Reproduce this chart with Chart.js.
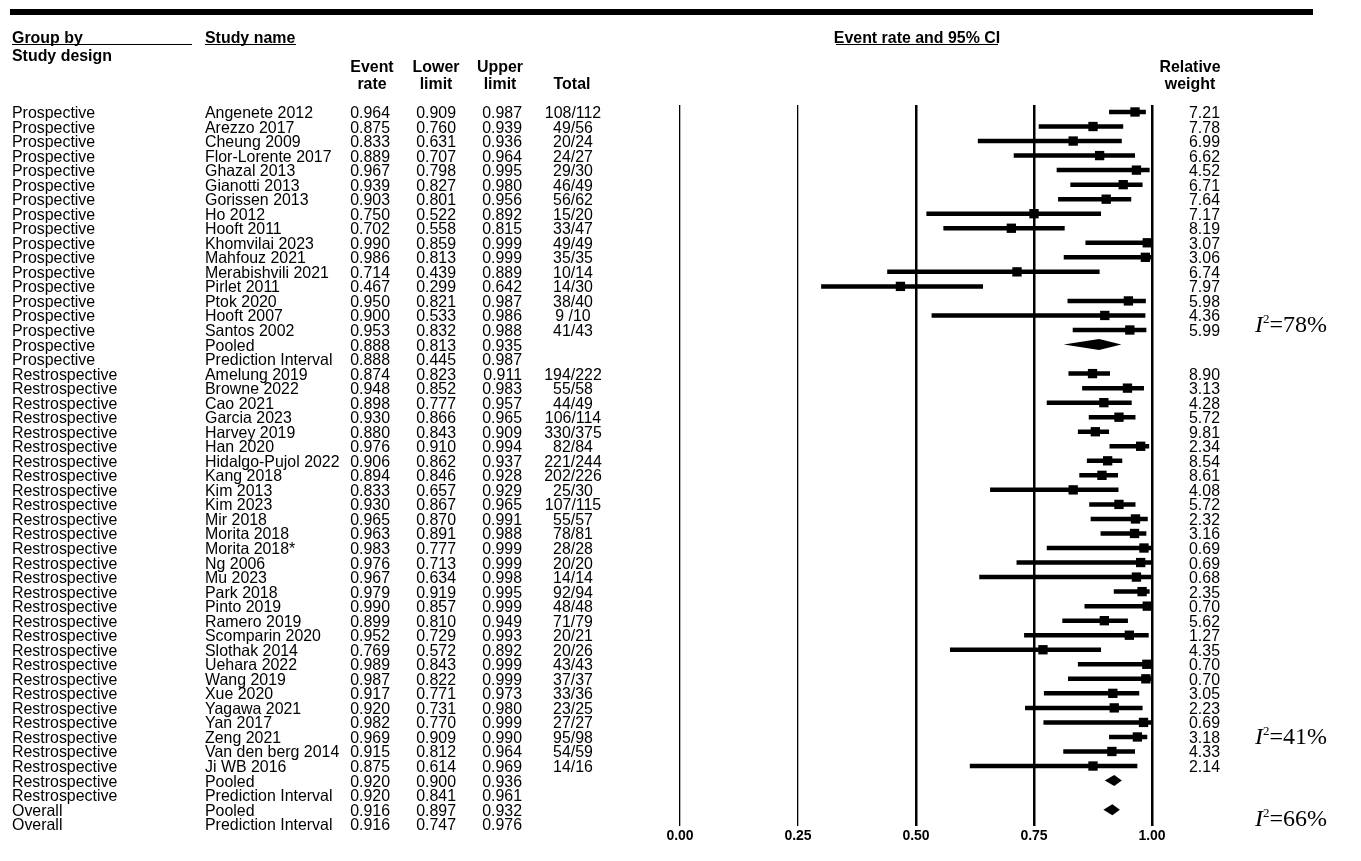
<!DOCTYPE html>
<html><head><meta charset="utf-8">
<script src="https://cdn.jsdelivr.net/npm/chart.js@4.4.0/dist/chart.umd.min.js"></script>
<style>
html,body{margin:0;padding:0;background:#fff;}
#wrap{position:relative;width:1361px;height:861px;overflow:hidden;background:#fff;}
#c{position:absolute;left:0;top:0;}
.t{position:absolute;font-family:"Liberation Sans",Arial,sans-serif;font-size:16.5px;color:#000;white-space:nowrap;line-height:1;}
.b{font-weight:bold;}
.rule{position:absolute;background:#000;}
.i2{position:absolute;font-family:"Liberation Serif","Times New Roman",serif;font-size:24px;color:#000;white-space:nowrap;line-height:1;transform:translateY(-50%);}
.i2 i{font-style:italic;}
.i2 .sup{font-size:13px;position:relative;top:-9px;margin-left:0px;}
</style></head><body><div id="wrap"><canvas id="c" width="1361" height="861"></canvas></div>
<script>
const groups = [
 "Prospective","Prospective","Prospective","Prospective","Prospective","Prospective","Prospective","Prospective","Prospective","Prospective","Prospective","Prospective","Prospective","Prospective","Prospective","Prospective","Prospective","Prospective",
 "Restrospective","Restrospective","Restrospective","Restrospective","Restrospective","Restrospective","Restrospective","Restrospective","Restrospective","Restrospective","Restrospective","Restrospective","Restrospective","Restrospective","Restrospective","Restrospective","Restrospective","Restrospective","Restrospective","Restrospective","Restrospective","Restrospective","Restrospective","Restrospective","Restrospective","Restrospective","Restrospective","Restrospective","Restrospective","Restrospective",
 "Overall","Overall"];
const studies = [
 "Angenete 2012","Arezzo 2017","Cheung 2009","Flor-Lorente 2017","Ghazal 2013","Gianotti 2013","Gorissen 2013","Ho 2012","Hooft 2011","Khomvilai 2023","Mahfouz 2021","Merabishvili 2021","Pirlet 2011","Ptok 2020","Hooft 2007","Santos 2002","Pooled","Prediction Interval",
 "Amelung 2019","Browne 2022","Cao 2021","Garcia 2023","Harvey 2019","Han 2020","Hidalgo-Pujol 2022","Kang 2018","Kim 2013","Kim 2023","Mir 2018","Morita 2018","Morita 2018*","Ng 2006","Mu 2023","Park 2018","Pinto 2019","Ramero 2019","Scomparin 2020","Slothak 2014","Uehara 2022","Wang 2019","Xue 2020","Yagawa 2021","Yan 2017","Zeng 2021","Van den berg 2014","Ji WB 2016","Pooled","Prediction Interval",
 "Pooled","Prediction Interval"];
const rowTypes = [
 "study","study","study","study","study","study","study","study","study","study","study","study","study","study","study","study","pooled","pi",
 "study","study","study","study","study","study","study","study","study","study","study","study","study","study","study","study","study","study","study","study","study","study","study","study","study","study","study","study","pooled","pi",
 "pooled","pi"];
const eventRates = [
 0.964,0.875,0.833,0.889,0.967,0.939,0.903,0.750,0.702,0.990,0.986,0.714,0.467,0.950,0.900,0.953,0.888,0.888,
 0.874,0.948,0.898,0.930,0.880,0.976,0.906,0.894,0.833,0.930,0.965,0.963,0.983,0.976,0.967,0.979,0.990,0.899,0.952,0.769,0.989,0.987,0.917,0.920,0.982,0.969,0.915,0.875,0.920,0.920,
 0.916,0.916];
const lowerLimits = [
 0.909,0.760,0.631,0.707,0.798,0.827,0.801,0.522,0.558,0.859,0.813,0.439,0.299,0.821,0.533,0.832,0.813,0.445,
 0.823,0.852,0.777,0.866,0.843,0.910,0.862,0.846,0.657,0.867,0.870,0.891,0.777,0.713,0.634,0.919,0.857,0.810,0.729,0.572,0.843,0.822,0.771,0.731,0.770,0.909,0.812,0.614,0.900,0.841,
 0.897,0.747];
const upperLimits = [
 0.987,0.939,0.936,0.964,0.995,0.980,0.956,0.892,0.815,0.999,0.999,0.889,0.642,0.987,0.986,0.988,0.935,0.987,
 0.911,0.983,0.957,0.965,0.909,0.994,0.937,0.928,0.929,0.965,0.991,0.988,0.999,0.999,0.998,0.995,0.999,0.949,0.993,0.892,0.999,0.999,0.973,0.980,0.999,0.990,0.964,0.969,0.936,0.961,
 0.932,0.976];
const totals = [
 "108/112","49/56","20/24","24/27","29/30","46/49","56/62","15/20","33/47","49/49","35/35","10/14","14/30","38/40","9 /10","41/43","","",
 "194/222","55/58","44/49","106/114","330/375","82/84","221/244","202/226","25/30","107/115","55/57","78/81","28/28","20/20","14/14","92/94","48/48","71/79","20/21","20/26","43/43","37/37","33/36","23/25","27/27","95/98","54/59","14/16","","",
 "",""];
const weights = [
 "7.21","7.78","6.99","6.62","4.52","6.71","7.64","7.17","8.19","3.07","3.06","6.74","7.97","5.98","4.36","5.99","","",
 "8.90","3.13","4.28","5.72","9.81","2.34","8.54","8.61","4.08","5.72","2.32","3.16","0.69","0.69","0.68","2.35","0.70","5.62","1.27","4.35","0.70","0.70","3.05","2.23","0.69","3.18","4.33","2.14","","",
 "",""];
const xTicks = [0, 0.25, 0.5, 0.75, 1];
const heterogeneity = [{label:"78%", row:14.6},{label:"41%", row:42.9},{label:"66%", row:48.6}];

const forestPlugin = {
  id:'forest',
  beforeDatasetsDraw(chart){
    const {ctx, scales:{x,y}} = chart;
    ctx.save();
    ctx.strokeStyle = '#000';
    ctx.lineWidth = 4.5;
    ctx.lineCap = 'butt';
    rowTypes.forEach((t,i)=>{
      if(t!=='study') return;
      const py = y.getPixelForValue(i);
      ctx.beginPath();
      ctx.moveTo(x.getPixelForValue(lowerLimits[i]), py);
      ctx.lineTo(x.getPixelForValue(upperLimits[i]), py);
      ctx.stroke();
    });
    ctx.restore();
  },
  afterDatasetsDraw(chart){
    const {ctx, scales:{x,y}} = chart;
    ctx.save();
    ctx.fillStyle = '#000';
    rowTypes.forEach((t,i)=>{
      if(t!=='pooled') return;
      const py = y.getPixelForValue(i);
      const xl = x.getPixelForValue(lowerLimits[i]);
      const xu = x.getPixelForValue(upperLimits[i]);
      const xe = x.getPixelForValue(eventRates[i]);
      const h = 5.5;
      ctx.beginPath();
      ctx.moveTo(xl, py);
      ctx.lineTo(xe, py - h);
      ctx.lineTo(xu, py);
      ctx.lineTo(xe, py + h);
      ctx.closePath();
      ctx.fill();
    });
    ctx.restore();
  }
};

const pts = [];
rowTypes.forEach((t,i)=>{ if(t==='study') pts.push({x:eventRates[i], y:i}); });

const chart = new Chart(document.getElementById('c'), {
  type:'scatter',
  data:{datasets:[{data:pts, pointStyle:'rect', pointRadius:6.6, pointHoverRadius:6.6, backgroundColor:'#000', borderColor:'#000', borderWidth:0, clip:false}]},
  options:{
    responsive:false, animation:false, events:[],
    plugins:{legend:{display:false}, tooltip:{enabled:false}},
    layout:{padding:{left:680, right:209, top:105, bottom:14}},
    scales:{
      x:{type:'linear', min:0, max:1, position:'bottom',
        afterBuildTicks:(s)=>{ s.ticks = xTicks.map(v=>({value:v})); },
        ticks:{callback:v=>Number(v).toFixed(2), color:'#000', font:{family:'Liberation Sans', size:14, weight:'bold'}, padding:2, maxRotation:0, autoSkip:false},
        grid:{drawTicks:false, color:'#000', lineWidth:c=> (c.tick && c.tick.value>=0.5) ? 2.5 : 1.3},
        border:{display:false}},
      y:{type:'linear', reverse:true, min:-0.48, max:49.14, display:false}
    }
  },
  plugins:[forestPlugin]
});

const wrap = document.getElementById('wrap');
const SX = 0.965;
function place(text, x, y, align, cls){
  const d = document.createElement('div');
  d.className = 't' + (cls ? ' ' + cls : '');
  d.textContent = text;
  d.style.left = x + 'px';
  d.style.top = y + 'px';
  const tx = align==='right' ? '-100%' : (align==='center' ? '-50%' : '0');
  d.style.transformOrigin = (align==='right' ? 'right' : (align==='center' ? 'center' : 'left')) + ' center';
  d.style.transform = 'translate(' + tx + ',-50%) scaleX(' + SX + ')';
  wrap.appendChild(d);
  return d;
}
function rule(x, y, w, h){
  const d = document.createElement('div');
  d.className = 'rule';
  d.style.left = x + 'px'; d.style.top = y + 'px';
  d.style.width = w + 'px'; d.style.height = h + 'px';
  wrap.appendChild(d);
}

// header
rule(10, 9, 1303, 6);
place('Group by', 12, 37, 'left', 'b');
rule(12, 44, 180, 1);
place('Study design', 12, 55, 'left', 'b');
place('Study name', 205, 37, 'left', 'b');
rule(205, 44, 91, 1);
place('Event rate and 95% CI', 917, 37, 'center', 'b');
rule(836, 44, 162, 1);
place('Event', 372, 66, 'center', 'b'); place('rate', 372, 83, 'center', 'b');
place('Lower', 436, 66, 'center', 'b'); place('limit', 436, 83, 'center', 'b');
place('Upper', 500, 66, 'center', 'b'); place('limit', 500, 83, 'center', 'b');
place('Total', 572, 83, 'center', 'b');
place('Relative', 1190, 66, 'center', 'b'); place('weight', 1190, 83, 'center', 'b');

const ys = chart.scales.y;
studies.forEach((s,i)=>{
  const py = ys.getPixelForValue(i);
  place(groups[i], 12, py, 'left');
  place(s, 205, py, 'left');
  place(eventRates[i].toFixed(3), 390, py, 'right');
  place(lowerLimits[i].toFixed(3), 456, py, 'right');
  place(upperLimits[i].toFixed(3), 522, py, 'right');
  if(totals[i]) place(totals[i], 573, py, 'center');
  if(weights[i]) place(weights[i], 1220, py, 'right');
});
heterogeneity.forEach(h=>{
  const d = document.createElement('div');
  d.className = 'i2';
  d.innerHTML = '<i>I</i><span class="sup">2</span>=' + h.label;
  d.style.left = '1255px';
  d.style.top = ys.getPixelForValue(h.row) + 'px';
  wrap.appendChild(d);
});
</script>
</body></html>
